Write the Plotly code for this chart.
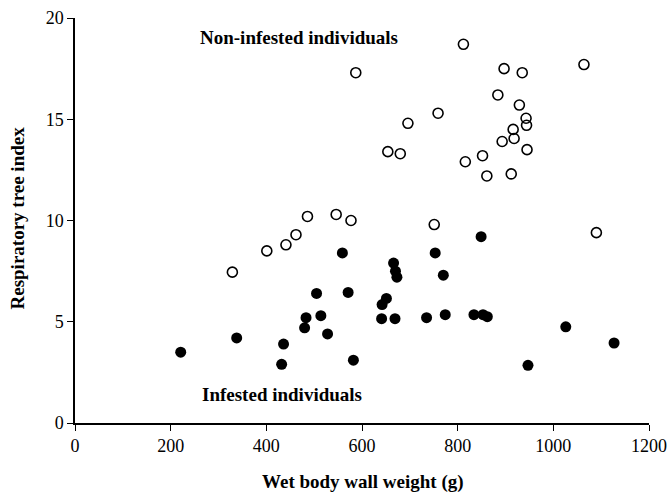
import plotly.graph_objects as go

# Non-infested individuals (open circles)
non_x = [812, 897, 935, 1064, 884, 929, 943, 944, 916, 918, 893, 945, 852, 816, 861, 912,
         759, 696, 654, 680, 587, 329, 401, 441, 462, 486, 546, 577, 751, 1090]
non_y = [18.7, 17.5, 17.3, 17.7, 16.2, 15.7, 15.05, 14.7, 14.5, 14.05, 13.9, 13.5, 13.2, 12.9,
         12.2, 12.3, 15.3, 14.8, 13.4, 13.3, 17.3, 7.45, 8.5, 8.8, 9.3, 10.2, 10.3, 10.0, 9.8, 9.4]

# Infested individuals (filled circles)
inf_x = [221, 338, 436, 432, 480, 483, 514, 505, 528, 559, 571, 582, 849, 753, 666, 670, 673,
         770, 651, 642, 641, 669, 735, 774, 834, 853, 862, 947, 1026, 1127]
inf_y = [3.5, 4.2, 3.9, 2.9, 4.7, 5.2, 5.3, 6.4, 4.4, 8.4, 6.45, 3.1, 9.2, 8.4, 7.9, 7.5, 7.2,
         7.3, 6.15, 5.85, 5.15, 5.15, 5.2, 5.35, 5.35, 5.35, 5.25, 2.85, 4.75, 3.95]

x_ticks = [0, 200, 400, 600, 800, 1000, 1200]
y_ticks = [0, 5, 10, 15, 20]

FONT = "Liberation Serif, Times New Roman, serif"

fig = go.Figure()
fig.add_trace(go.Scatter(x=non_x, y=non_y, mode="markers",
                         marker=dict(symbol="circle-open", size=10, color="black",
                                     line=dict(width=1.6, color="black")),
                         showlegend=False, cliponaxis=False))
fig.add_trace(go.Scatter(x=inf_x, y=inf_y, mode="markers",
                         marker=dict(symbol="circle", size=11, color="black"),
                         showlegend=False, cliponaxis=False))

ann_font = dict(family=FONT, size=19, color="black")
fig.add_annotation(text="<b>Non-infested individuals</b>", x=0.2143, y=0.952, xref="paper", yref="paper",
                   xanchor="left", yanchor="middle", showarrow=False, font=ann_font)
fig.add_annotation(text="<b>Infested individuals</b>", x=0.2178, y=0.0702, xref="paper", yref="paper",
                   xanchor="left", yanchor="middle", showarrow=False, font=ann_font)
fig.add_annotation(text="<b>Wet body wall weight (g)</b>", x=0.502, y=-0.1466, xref="paper", yref="paper",
                   xanchor="center", yanchor="middle", showarrow=False, font=ann_font)
fig.add_annotation(text="<b>Respiratory tree index</b>", x=-0.101, y=0.505, xref="paper", yref="paper",
                   xanchor="center", yanchor="middle", textangle=-90, showarrow=False, font=ann_font)

fig.update_layout(
    width=670, height=500,
    margin=dict(l=75, r=21, t=17.5, b=76.5, autoexpand=False),
    plot_bgcolor="white", paper_bgcolor="white",
    font=dict(family=FONT, size=18, color="black"),
    xaxis=dict(range=[0, 1200], tickvals=x_ticks, showgrid=False, zeroline=False,
               showline=True, linecolor="black", linewidth=1.5, automargin=False,
               ticks="outside", ticklen=6, tickcolor="black", tickwidth=1),
    yaxis=dict(range=[0, 20], tickvals=y_ticks, showgrid=False, zeroline=False,
               showline=True, linecolor="black", linewidth=1.5, automargin=False,
               ticks="outside", ticklen=6, tickcolor="black", tickwidth=1),
)

fig.write_html("out.html", config={"displayModeBar": False},
               post_script="document.body.style.margin='0px';")
